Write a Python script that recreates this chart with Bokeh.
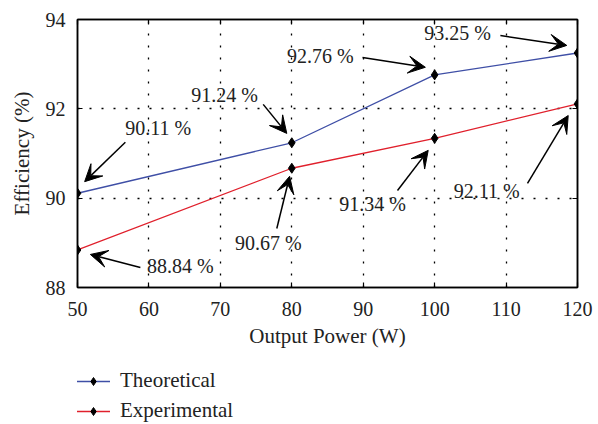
from bokeh.plotting import figure
from bokeh.layouts import column
from bokeh.models import (Range1d, LinearAxis, FixedTicker, Arrow, VeeHead, Legend,
                          LegendItem, ColumnDataSource)
from bokeh.embed import file_html
from bokeh.resources import INLINE
from bokeh.core.properties import value

# ---- data ----
power = [50, 80, 100, 120]
theoretical = [90.11, 91.24, 92.76, 93.25]
experimental = [88.84, 90.67, 91.34, 92.11]
x_ticks = [50, 60, 70, 80, 90, 100, 110, 120]
y_ticks = [88, 90, 92, 94]
series_names = ["Theoretical", "Experimental"]

# annotations (values, label position, arrow start, arrow end) in data units
ann_values = [90.11, 91.24, 92.76, 93.25, 88.84, 90.67, 91.34, 92.11]
ann_text_x = [61.3, 70.6, 84.0, 103.2, 64.4, 76.7, 91.3, 107.3]
ann_text_y = [91.58, 92.30, 93.19, 93.69, 88.49, 88.99, 89.88, 90.17]
arrow_x0 = [56.7, 76.0, 89.9, 109.2, 58.8, 77.9, 94.8, 113.0]
arrow_y0 = [91.25, 92.10, 93.15, 93.64, 88.45, 89.32, 90.17, 90.33]
arrow_x1 = [51.0, 79.3, 98.7, 118.5, 51.8, 79.7, 99.1, 118.7]
arrow_y1 = [90.37, 91.45, 92.93, 93.42, 88.74, 90.49, 91.07, 91.85]

FONT = "Liberation Serif"
TXT = "#222222"
BLUE = "#3f4fa6"
RED = "#e0202c"

p = figure(width=596, height=352, output_backend="svg", toolbar_location=None,
           x_range=Range1d(50, 120), y_range=Range1d(88, 94),
           min_border_left=77, min_border_right=19, min_border_top=19,
           min_border_bottom=65)
p.background_fill_color = "white"
p.border_fill_color = "white"
p.outline_line_color = "black"
p.outline_line_width = 1.5
p.outline_line_alpha = 1

for ax in (p.xaxis[0], p.yaxis[0]):
    ax.axis_line_width = 1.5
    ax.axis_line_color = "black"
    ax.major_tick_in = 5
    ax.major_tick_out = 0
    ax.major_tick_line_width = 1.2
    ax.minor_tick_line_color = None
    ax.major_label_text_font = FONT
    ax.major_label_text_font_size = "20px"
    ax.major_label_text_color = TXT
    ax.axis_label_text_font = FONT
    ax.axis_label_text_font_size = "21px"
    ax.axis_label_text_font_style = "normal"
    ax.axis_label_text_color = TXT

p.xaxis[0].ticker = FixedTicker(ticks=x_ticks)
p.yaxis[0].ticker = FixedTicker(ticks=y_ticks)
p.xaxis[0].axis_label = "Output Power (W)"
p.yaxis[0].axis_label = "Efficiency (%)"
p.xaxis[0].major_label_standoff = 14
p.xaxis[0].axis_label_standoff = 5
p.yaxis[0].major_label_standoff = 12
p.yaxis[0].axis_label_standoff = 9

# mirrored ticks on top and right (no labels)
for loc, ticks in (("above", x_ticks), ("right", y_ticks)):
    ax = LinearAxis(ticker=FixedTicker(ticks=ticks), major_tick_in=5, major_tick_out=0,
                    minor_tick_line_color=None, major_label_text_color=None,
                    major_label_text_font_size="6px", axis_line_width=1.5,
                    major_tick_line_width=1.2, major_label_standoff=0)
    p.add_layout(ax, loc)

for g in (p.xgrid[0], p.ygrid[0]):
    g.grid_line_color = "black"
    g.grid_line_width = 1.3
    g.grid_line_dash = "2 10"
p.xgrid[0].ticker = FixedTicker(ticks=x_ticks[1:-1])
p.ygrid[0].ticker = FixedTicker(ticks=y_ticks[1:-1])

p.line(power, theoretical, line_color=BLUE, line_width=1.3)
p.scatter(power, theoretical, marker="diamond", size=10, fill_color="black", line_color="black")
p.line(power, experimental, line_color=RED, line_width=1.3)
p.scatter(power, experimental, marker="diamond", size=10, fill_color="black", line_color="black")

arrows = ColumnDataSource(dict(x0=arrow_x0, y0=arrow_y0, x1=arrow_x1, y1=arrow_y1))
p.add_layout(Arrow(source=arrows, x_start="x0", y_start="y0", x_end="x1", y_end="y1",
                   line_color="black", line_width=1.5,
                   end=VeeHead(size=17, fill_color="black", line_color="black", line_width=1)))

labels = ColumnDataSource(dict(x=ann_text_x, y=ann_text_y,
                               t=[f"{v:.2f} %" for v in ann_values]))
p.text(x="x", y="y", text="t", source=labels, text_font=value(FONT),
       text_font_size="20px", text_align="center", text_baseline="middle",
       text_color=TXT)

# ---- legend below the chart (separate strip, frame aligned with the chart) ----
q = figure(width=596, height=70, output_backend="svg", toolbar_location=None,
           x_range=Range1d(0, 1), y_range=Range1d(0, 1),
           min_border_left=0, min_border_right=0, min_border_top=0, min_border_bottom=0)
q.axis.visible = False
q.grid.visible = False
q.outline_line_color = None
q.background_fill_color = "white"
q.border_fill_color = "white"
items = []
for name, col in zip(series_names, (BLUE, RED)):
    # proxy glyphs placed outside the visible range, only used for the legend
    lr = q.line([5, 6], [5, 6], line_color=col, line_width=1.3)
    sr = q.scatter([5], [5], marker="diamond", size=10, fill_color="black", line_color="black")
    items.append(LegendItem(label=name, renderers=[lr, sr]))
legend = Legend(items=items, location=(-1, -1), orientation="vertical",
                glyph_width=34, glyph_height=20, label_height=20, spacing=5,
                padding=0, margin=0, label_standoff=10,
                label_text_font=FONT, label_text_font_size="21px",
                label_text_color=TXT,
                border_line_color=None, background_fill_alpha=0)
q.add_layout(legend, "center")

layout = column(p, q, spacing=0)
open("out.html", "w").write(file_html(layout, INLINE))
